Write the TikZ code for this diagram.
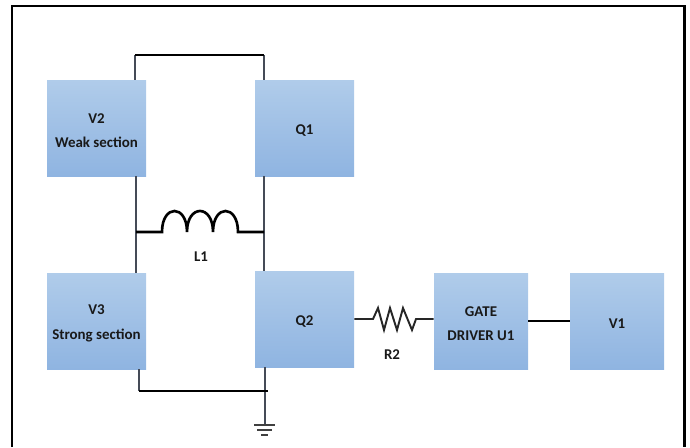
\documentclass[tikz,border=0pt]{standalone}
\usepackage{fontspec}
\setmainfont{Carlito}
\definecolor{blockTop}{HTML}{B0CCEA}
\definecolor{blockBot}{HTML}{8FB4E1}
\definecolor{stubGray}{HTML}{454B57}
\tikzset{
  block/.style={minimum width=99*0.02cm, minimum height=96*0.02cm, inner sep=0pt, align=center,
    top color=blockTop, bottom color=blockBot, font=\fontsize{8.5}{14}\selectfont\bfseries, text=black!90,
    execute at begin node={\rule{0pt}{8pt}}},
  twoline/.style={execute at begin node={\rule{0pt}{22.5pt}}},
  lbl/.style={font=\fontsize{8.5}{11}\selectfont\bfseries, text=black!90, inner sep=0pt},
  wire/.style={line width=1.5pt, black},
  stub/.style={line width=0.9pt, stubGray},
  gnd/.style={line width=1.2pt, black!75}
}
\begin{document}
\begin{tikzpicture}[x=0.02cm,y=-0.02cm]
  \useasboundingbox (0,0) rectangle (690,447);
  % Draw the frame
  \draw[black, line width=1.6pt] (12,447) -- (12,6) -- (684.5,6) -- (684.5,447);

  % Junctions on the wires
  \coordinate (topl) at (135,55);
  \coordinate (topr) at (264,55);
  \coordinate (midl) at (136,232);
  \coordinate (midr) at (264,232);
  \coordinate (botl) at (139,391);
  \coordinate (botr) at (268,391);
  \coordinate (gnd) at (265,425);
  \coordinate (coila) at (162,232);
  \coordinate (coilb) at (238,232);
  \coordinate (resa) at (373,319);
  \coordinate (resb) at (416,319);

  % Draw the blocks
  \node[block, twoline] (v2) at (96.5,128) {V2\\Weak section};
  \node[block] (q1) at (304.5,128) {Q1};
  \node[block, twoline] (v3) at (96.5,321) {V3\\Strong section};
  \node[block] (q2) at (304.5,319) {Q2};
  \node[block, twoline, minimum width=94*0.02cm] (driver) at (481,321) {GATE\\DRIVER U1};
  \node[block, minimum width=94*0.02cm] (v1) at (617,321) {V1};

  % Draw the wires
  \draw[stub] (topl) -- (topl |- v2.north);
  \draw[stub] (topr) -- (topr |- q1.north);
  \draw[wire] (topl) -- (topr);
  \draw[stub] (midl |- v2.south) -- (midl |- v3.north);
  \draw[stub] (midr |- q1.south) -- (midr |- q2.north);
  \draw[stub] (botl |- v3.south) -- (botl);
  \draw[stub] (gnd |- q2.south) -- (gnd);
  \draw[wire] (botl) -- (botr);
  \draw[wire] (v1.west |- driver.east) -- (driver.east);

  % Draw the inductor
  \draw[wire] (midl) -- (coila)
    .. controls (162,204) and (187,204) .. (187,232)
    .. controls (187,204) and (213,204) .. (213,232)
    .. controls (213,204) and (238,204) .. (238,232) -- (midr);
  \node[lbl] (l1) at (201,257) {L1};

  % Draw the resistor
  \draw[line width=1.1pt, black!85] (q2.east |- resa) -- (resa) -- (378,308) -- (384,330) -- (390,308)
    -- (397,330) -- (403,308) -- (412,330) -- (resb) -- (driver.west |- resb);
  \node[lbl] (r2) at (392,355) {R2};

  % Draw the ground
  \draw[gnd] (254,425) -- (275,425);
  \draw[gnd] (257,430) -- (272,430);
  \draw[gnd] (261,435) -- (268,435);
\end{tikzpicture}
\end{document}
